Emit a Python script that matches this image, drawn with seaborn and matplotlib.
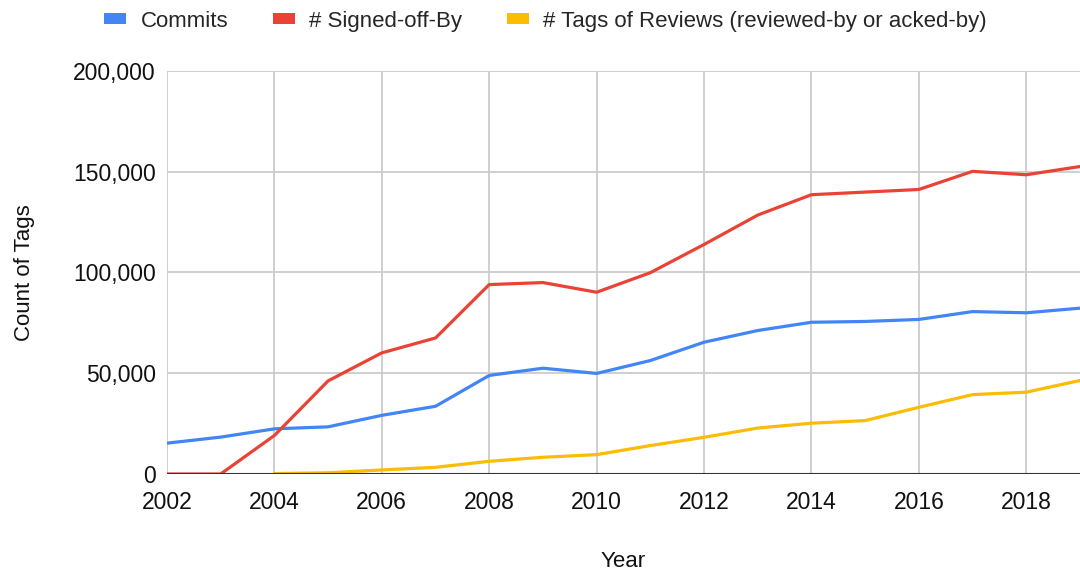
import pandas as pd
import numpy as np
import seaborn as sns
import matplotlib.pyplot as plt
from matplotlib.ticker import FuncFormatter
from matplotlib.patches import Patch

years = list(range(2002, 2020))
commits = [15300, 18300, 22400, 23400, 29100, 33600, 48900, 52500, 49900,
           56300, 65400, 71200, 75300, 75700, 76700, 80600, 80000, 82300]
signed_off = [0, 0, 19100, 46200, 60100, 67500, 94000, 95000, 90200,
              99900, 113900, 128500, 138600, 139900, 141200, 150200, 148500, 152600]
review_tags = [np.nan, np.nan, 200, 600, 2000, 3300, 6300, 8300, 9600,
               14100, 18200, 22800, 25200, 26500, 33100, 39400, 40600, 46400]

series = ['Commits', '# Signed-off-By', '# Tags of Reviews (reviewed-by or acked-by)']
colors = ['#4285F4', '#EA4335', '#FBBC04']

df = pd.DataFrame({'Year': years, series[0]: commits, series[1]: signed_off, series[2]: review_tags})
long = df.melt(id_vars='Year', var_name='Series', value_name='Count').dropna()

sns.set_style('whitegrid')
plt.rcParams['font.family'] = ['Liberation Sans', 'DejaVu Sans']

fig = plt.figure(figsize=(10.8, 5.73), dpi=100)
ax = fig.add_axes([0.1546, 0.1728, 0.8454, 0.7033])

sns.lineplot(data=long, x='Year', y='Count', hue='Series', hue_order=series,
             palette=colors, linewidth=2.3, ax=ax, legend=False)

ax.set_xlim(2002, 2019)
ax.set_ylim(0, 200000)
ax.set_xticks(range(2002, 2019, 2))
ax.set_yticks(range(0, 200001, 50000))
ax.yaxis.set_major_formatter(FuncFormatter(lambda v, p: f'{int(v):,}'))
ax.tick_params(axis='both', labelsize=16.5, length=0, colors='#111111')
ax.tick_params(axis='x', pad=12)
ax.tick_params(axis='y', pad=8)
ax.grid(True, color='#cccccc', linewidth=1.3)
for s in ax.spines.values():
    s.set_visible(False)
ax.axhline(0, color='#333333', linewidth=1.5, zorder=3)
ax.set_xlabel('Year', fontsize=16, color='#111111')
ax.set_ylabel('Count of Tags', fontsize=16, color='#111111')
ax.xaxis.set_label_coords(0.5, -0.19)
ax.yaxis.set_label_coords(-0.144, 0.5)

handles = [Patch(facecolor=c, edgecolor='none') for c in colors]
fig.legend(handles, series, loc='center', bbox_to_anchor=(0.505, 0.963), ncol=3,
           frameon=False, fontsize=16, handlelength=1.0, handleheight=0.4,
           columnspacing=2.0, handletextpad=0.65, borderpad=0)

fig.savefig('out.png', dpi=100)
